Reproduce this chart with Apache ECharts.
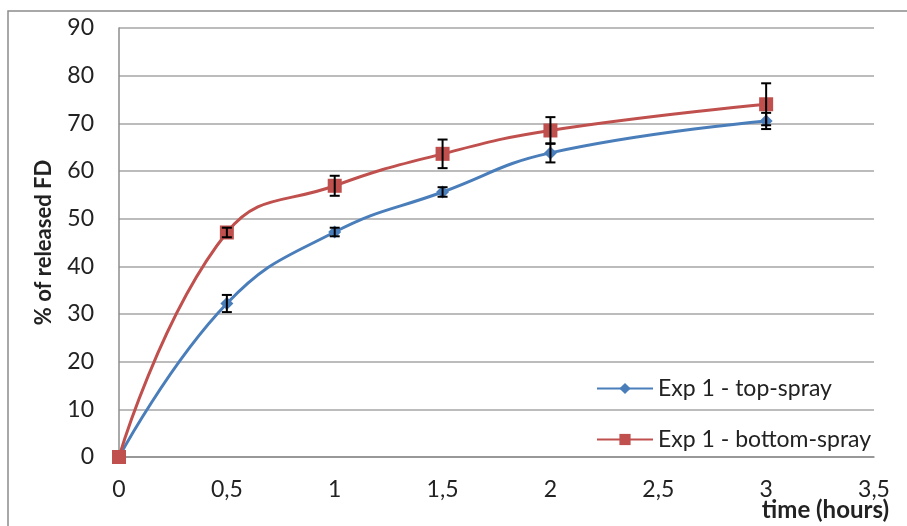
<!DOCTYPE html>
<html>
<head>
<meta charset="utf-8">
<script src="https://cdn.jsdelivr.net/npm/echarts@6/dist/echarts.min.js"></script>
<style>
  html, body { margin: 0; padding: 0; background: #fff; }
  #chart { width: 907px; height: 526px; }
</style>
</head>
<body>
<div id="chart"></div>
<script>
// time points (hours)
var times = [0, 0.5, 1, 1.5, 2, 3];
// % of released FD
var topSpray = [0, 32.2, 47.2, 55.6, 63.8, 70.5];
var bottomSpray = [0, 47.1, 56.9, 63.6, 68.5, 74.0];
// standard deviations (error bars)
var topSprayErr = [0, 1.8, 0.9, 1.0, 2.0, 1.7];
var bottomSprayErr = [0, 1.0, 2.1, 3.0, 2.8, 4.4];
var yTicks = [0, 10, 20, 30, 40, 50, 60, 70, 80, 90];

var blue = "#4a7ebb";
var red = "#c0504d";
var font = "Lato, 'Open Sans', sans-serif";

let pairs = (xs, ys) => xs.map((x, i) => [x, ys[i]]);

let errData = (xs, ys, es) => xs.map((x, i) => [x, ys[i] - es[i], ys[i] + es[i]]);

function renderErr(params, api) {
	var lo = api.coord([api.value(0), api.value(1)]);
	var hi = api.coord([api.value(0), api.value(2)]);
	if (Math.abs(lo[1] - hi[1]) < 1) return;
	var w = 5;
	var style = { stroke: "#000", lineWidth: 2 };
	return {
		type: "group",
		children: [
			{ type: "line", shape: { x1: lo[0], y1: lo[1], x2: hi[0], y2: hi[1] }, style: style },
			{ type: "line", shape: { x1: lo[0] - w, y1: lo[1], x2: lo[0] + w, y2: lo[1] }, style: style },
			{ type: "line", shape: { x1: hi[0] - w, y1: hi[1], x2: hi[0] + w, y2: hi[1] }, style: style }
		]
	};
}

var mychart = echarts.init(document.getElementById("chart"));
var option = {
	animation: false,
	backgroundColor: "#fff",
	graphic: [{
		type: "rect",
		shape: { x: 8, y: 11, width: 920, height: 540 },
		style: { fill: "none", stroke: "#8c8c8c", lineWidth: 1.5 },
		silent: true
	}],
	grid: { left: 119, right: 33, top: 28, bottom: 69, containLabel: false, outerBoundsMode: "none" },
	legend: {
		orient: "vertical",
		left: 591,
		top: 372,
		itemGap: 28,
		itemWidth: 56,
		itemHeight: 14,
		textStyle: { fontFamily: font, fontSize: 23, color: "#222", padding: [0, 0, 0, 0] },
		data: ["Exp 1 - top-spray", "Exp 1 - bottom-spray"]
	},
	xAxis: {
		type: "value",
		min: 0,
		max: 3.5,
		interval: 0.5,
		name: "time (hours)",
		nameLocation: "end",
		nameGap: 15,
		nameMoveOverlap: false,
		nameTextStyle: {
			fontFamily: font, fontSize: 24, fontWeight: "bold", color: "#222",
			align: "right", verticalAlign: "top", padding: [41, 0, 0, 0]
		},
		axisLine: { lineStyle: { color: "#8c8c8c", width: 1.5 } },
		axisTick: { show: false },
		splitLine: { show: false },
		axisLabel: {
			fontFamily: font, fontSize: 23, color: "#222", margin: 21,
			formatter: v => String(v).replace(".", ",")
		}
	},
	yAxis: {
		type: "value",
		min: yTicks[0],
		max: yTicks[yTicks.length - 1],
		interval: 10,
		name: "% of released FD",
		nameLocation: "middle",
		nameRotate: 90,
		nameGap: 64,
		nameMoveOverlap: false,
		nameTextStyle: { fontFamily: font, fontSize: 22, fontWeight: "bold", color: "#222" },
		axisLine: { show: true, lineStyle: { color: "#8c8c8c", width: 1.5 } },
		axisTick: { show: false },
		splitLine: { lineStyle: { color: "#a6a6a6", width: 1.5 } },
		axisLabel: { fontFamily: font, fontSize: 23, color: "#222", margin: 25 }
	},
	series: [
		{
			name: "Exp 1 - top-spray",
			type: "line",
			smooth: 0.45,
			data: pairs(times, topSpray),
			symbol: "diamond",
			symbolSize: 13,
			itemStyle: { color: blue },
			lineStyle: { color: blue, width: 3 },
			z: 2
		},
		{
			name: "Exp 1 - bottom-spray",
			type: "line",
			smooth: 0.45,
			data: pairs(times, bottomSpray),
			symbol: "rect",
			symbolSize: 14,
			itemStyle: { color: red },
			lineStyle: { color: red, width: 3 },
			z: 3
		},
		{
			type: "custom",
			renderItem: renderErr,
			data: errData(times, topSpray, topSprayErr),
			z: 4,
			silent: true
		},
		{
			type: "custom",
			renderItem: renderErr,
			data: errData(times, bottomSpray, bottomSprayErr),
			z: 4,
			silent: true
		}
	]
};
mychart.setOption(option);
</script>
</body>
</html>
